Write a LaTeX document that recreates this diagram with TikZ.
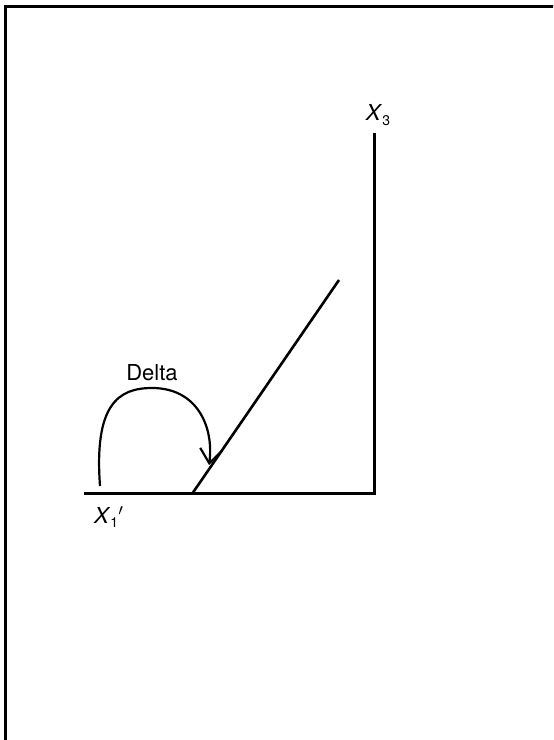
\documentclass[tikz,border=0pt]{standalone}
\usepackage{fontspec}
\setmainfont{TeX Gyre Heros}
\newcommand{\AxisY}{246}
\newcommand{\AxisX}{374}
\newcommand{\AxisTop}{607}
\newcommand{\LineFoot}{192}
\usepackage{tikz}
\usetikzlibrary{arrows.meta,calc,positioning}

\begin{document}
\begin{tikzpicture}[x=.5pt,y=.5pt,every node/.style={font=\fontsize{11}{13}\selectfont}]
\clip (0,0) rectangle (553,740);
\draw[line width=1.5pt] (5.5,-20) -- (5.5,733.5) -- (600,733.5);
\coordinate (xstart) at (84,\AxisY);
\coordinate (corner) at (\AxisX,\AxisY);
\coordinate (top) at (\AxisX,\AxisTop);
\coordinate (foot) at (\LineFoot,\AxisY);
\coordinate (tip) at (339,460);
\coordinate (arcstart) at (100,254);
\coordinate (arcend) at (209,275);
\draw[line width=1.1pt,-{Straight Barb[length=7pt,width=11pt,line width=1.1pt]}] (arcstart)
 .. controls (94,335) and (118,352) .. (152,352)
 .. controls (198,352) and (214,312) .. (arcend);
\draw[line width=1.5pt] (xstart)--(corner)--(top);
\draw[line width=1.3pt] (foot)--(tip);
\node (delta) at (152,367) {Delta};
\node (xthree) at (378,625) {\textit{X}\raisebox{-.4ex}{\scriptsize 3}};
\node (xone) at (109,223) {\textit{X}\raisebox{-.4ex}{\scriptsize 1}$'$};
\end{tikzpicture}
\end{document}
